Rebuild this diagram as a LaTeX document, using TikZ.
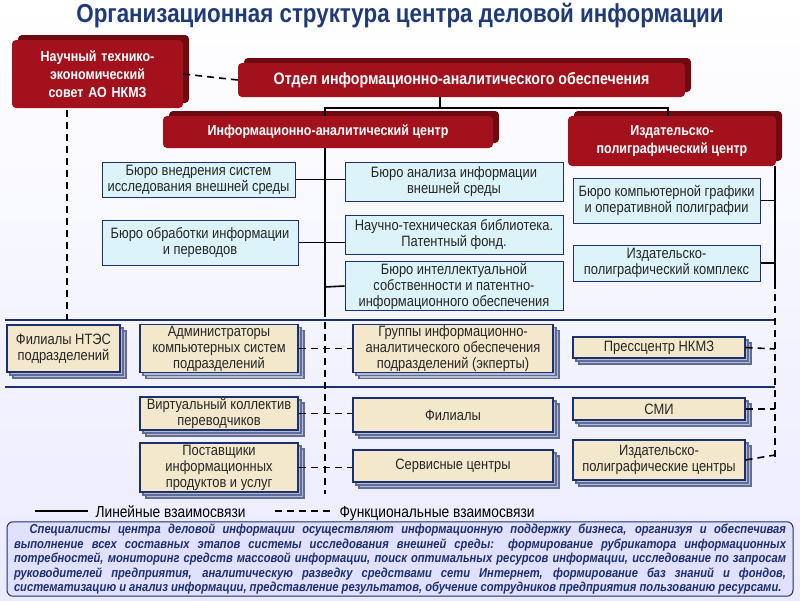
\documentclass[tikz,border=0pt]{standalone}
\usepackage{fontspec}
\setmainfont[FakeStretch=0.86]{Liberation Sans}
\usetikzlibrary{shadows}
\definecolor{navy}{HTML}{1C2F6E}
\definecolor{dred}{HTML}{A3121C}
\definecolor{sred}{HTML}{6E0A10}
\definecolor{lblue}{HTML}{DDF3FA}
\definecolor{beige}{HTML}{F3E8CC}
\definecolor{shad}{HTML}{B8BCD0}
\definecolor{ttl}{HTML}{1F3A78}
\tikzset{
 redbox/.style={fill=dred, rounded corners=4pt, text=white, font=\bfseries\fontsize{14.5}{18}\selectfont, align=center, inner sep=2pt,
   copy shadow={shadow xshift=6pt, shadow yshift=5pt, fill=sred, draw=none}},
 bluebox/.style={fill=lblue, draw=navy, line width=1pt, align=center, inner sep=1pt, font=\fontsize{15}{16}\selectfont, text=black!85},
 beigebox/.style={fill=beige, draw=navy, line width=1.2pt, align=center, inner sep=1pt, font=\fontsize{15}{16}\selectfont, text=black!85,
   double copy shadow={shadow xshift=3pt, shadow yshift=-3pt, fill=shad, draw=navy!70}},
 lin/.style={line width=1.6pt, black},
 fun/.style={line width=1.6pt, black, dash pattern=on 7pt off 5pt},
 sep/.style={line width=2pt, navy}
}
\begin{document}
\begin{tikzpicture}[x=1pt,y=-1pt]
\shade[top color=white, bottom color=blue!8] (0,0) rectangle (800,600);
\useasboundingbox (0,0) rectangle (800,600);
\node[font=\bfseries\fontsize{26}{28}\selectfont, text=ttl] (title) at (400,16) {Организационная структура центра деловой информации};
% red boxes
\node[redbox, minimum width=171, minimum height=68, text width=160] (nts) at (97.5,74) {Научный технико-\\экономический\\совет АО НКМЗ};
\node[redbox, minimum width=447, minimum height=34, font=\bfseries\fontsize{16.5}{18}\selectfont] (otd) at (461.5,80) {Отдел информационно-аналитического обеспечения};
\node[redbox, minimum width=330, minimum height=32] (iac) at (328,132) {Информационно-аналитический центр};
\node[redbox, minimum width=208, minimum height=50] (ipc) at (672,141) {Издательско-\\полиграфический центр};
% blue boxes
\node[bluebox, minimum width=193, minimum height=35] (b1) at (198.5,179.5) {Бюро внедрения систем\\исследования внешней среды};
\node[bluebox, minimum width=196, minimum height=45] (b2) at (200,242.5) {Бюро обработки информации\\и переводов};
\node[bluebox, minimum width=218, minimum height=39] (b3) at (454,181.5) {Бюро анализа информации\\внешней среды};
\node[bluebox, minimum width=218, minimum height=39] (b4) at (454,234.5) {Научно-техническая библиотека.\\Патентный фонд.};
\node[bluebox, minimum width=218, minimum height=46] (b5) at (454,286) {Бюро интеллектуальной\\собственности и патентно-\\информационного обеспечения};
\node[bluebox, minimum width=187, minimum height=45] (b6) at (666.5,200.5) {Бюро компьютерной графики\\и оперативной полиграфии};
\node[bluebox, minimum width=187, minimum height=36] (b7) at (666.5,263) {Издательско-\\полиграфический комплекс};
% org lines
\coordinate (jt) at (440,108);
\coordinate (rt) at (775,166);
\draw[lin] (otd.south -| jt) -- (jt);
\draw[lin] (325,116) -- (325,108) -- (668,108) -- (668,116);
\draw[lin] (325,148) -- (325,310);
\draw[lin] (b1.east) -- (b1.east -| b3.west);
\draw[lin] (b2.east) -- (b2.east -| b4.west);
\draw[lin] (325,287) -- (b5.west);
\draw[lin] (rt) -- (775,282);
\draw[lin] (b6.east) -- (b6.east -| rt);
\draw[lin] (b7.east) -- (b7.east -| rt);
\draw[fun] (nts.east) -- (otd.west);
% separators
\draw[sep] (5,320) -- (775,320);
\draw[sep] (5,387) -- (775,387);
% beige boxes
\node[beigebox, minimum width=113, minimum height=47] (f1) at (63.5,348.5) {Филиалы НТЭС\\подразделений};
\node[beigebox, minimum width=158, minimum height=47] (f2) at (219,348.5) {Администраторы\\компьютерных систем\\подразделений};
\node[beigebox, minimum width=200, minimum height=47] (f3) at (453,348.5) {Группы информационно-\\аналитического обеспечения\\подразделений (экперты)};
\node[beigebox, minimum width=172, minimum height=21] (f4) at (659,347.5) {Прессцентр НКМЗ};
\node[beigebox, minimum width=158, minimum height=33] (f5) at (219,413.5) {Виртуальный коллектив\\переводчиков};
\node[beigebox, minimum width=200, minimum height=34] (f6) at (453,415) {Филиалы};
\node[beigebox, minimum width=172, minimum height=22] (f7) at (659,409) {СМИ};
\node[beigebox, minimum width=158, minimum height=49] (f8) at (219,467.5) {Поставщики\\информационных\\продуктов и услуг};
\node[beigebox, minimum width=200, minimum height=32] (f9) at (453,466) {Сервисные центры};
\node[beigebox, minimum width=172, minimum height=40] (f10) at (659,460) {Издательско-\\полиграфические центры};
% functional lines
\draw[fun] (67,110) -- (67,320);
\draw[fun] (325,310) -- (325,494);
\draw[fun] (775,282) -- (775,462);
\draw[fun] (f2.east) -- (f3.west);
\draw[fun] (f5.east) -- (f5.east -| f6.west);
\draw[fun] (f8.east) -- (f8.east -| f9.west);
\draw[fun] (f4.east) -- (775,349);
\draw[fun] (f7.east) -- (775,409);
\draw[fun] (f10.east) -- (775,455);
% legend
\coordinate (l1) at (35,511); \coordinate (l2) at (88,511);
\coordinate (l3) at (275,511); \coordinate (l4) at (330,511);
\draw[lin] (l1) -- (l2);
\node[anchor=base west, font=\fontsize{16}{18}\selectfont] (lt1) at (92,517) {Линейные взаимосвязи};
\draw[fun] (l3) -- (l4);
\node[anchor=base west, font=\fontsize{16}{18}\selectfont] (lt2) at (336,517) {Функциональные взаимосвязи};
% bottom text
\node[draw=navy, line width=1pt, fill=blue!12, rounded corners=6pt, minimum width=786, minimum height=74, text width=772,
  align=justify, font=\bfseries\itshape\fontsize{13}{14.5}\selectfont, text=navy, inner sep=2pt] (note) at (400,559)
{\hspace*{1.2em}Специалисты центра деловой информации осуществляют информационную поддержку бизнеса, организуя и обеспечивая выполнение всех составных этапов системы исследования внешней среды: формирование рубрикатора информационных потребностей, мониторинг средств массовой информации, поиск оптимальных ресурсов информации, исследование по запросам руководителей предприятия, аналитическую разведку средствами сети Интернет, формирование баз знаний и фондов, систематизацию и анализ информации, представление результатов, обучение сотрудников предприятия пользованию ресурсами.};
\end{tikzpicture}
\end{document}
